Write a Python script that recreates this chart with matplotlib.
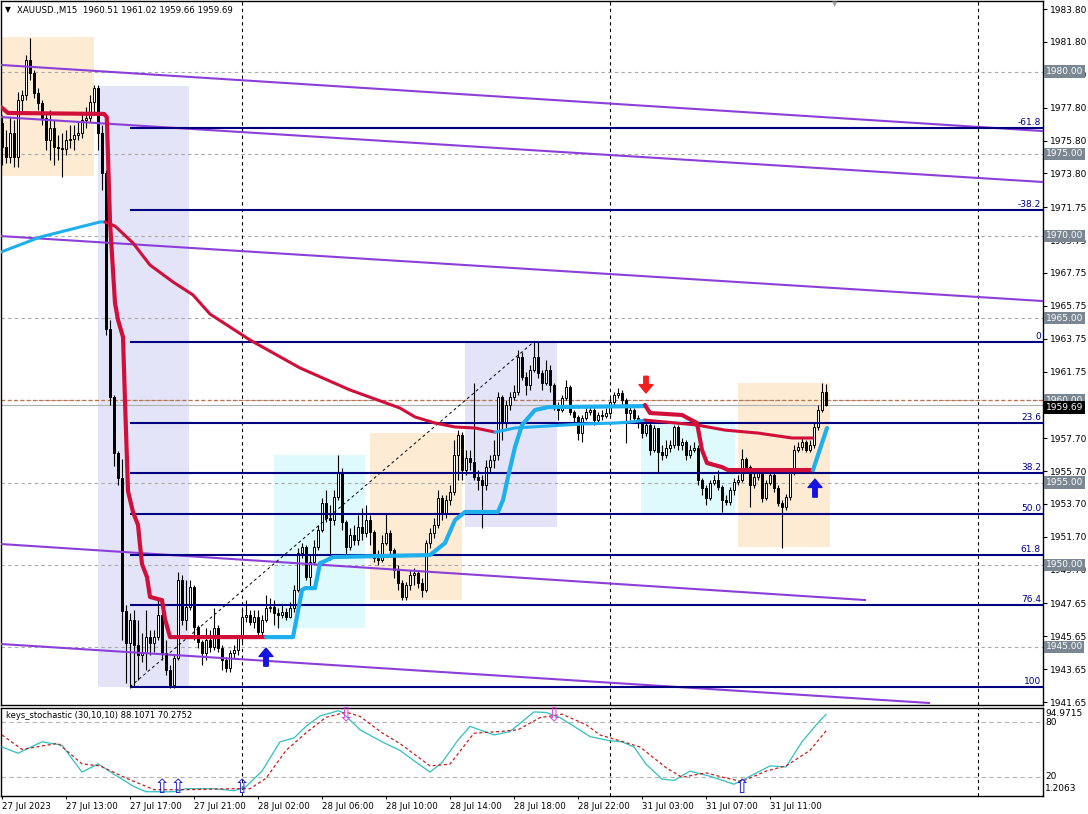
import matplotlib
matplotlib.use("Agg")
import matplotlib.pyplot as plt
import matplotlib.transforms as mtransforms
from matplotlib.patches import Rectangle
import numpy as np

plt.rcParams["font.family"] = ["DejaVu Sans"]

W, H = 1088, 814

# ---- M15 candles (bar 0 = 27 Jul 09:00), open = previous close ----
first_open = 1976.87
closes = [
    1975.41, 1974.80, 1976.26, 1974.80, 1978.27, 1978.57, 1980.70, 1979.91, 1978.69, 1978.08,
    1977.17, 1975.83, 1976.56, 1975.41, 1975.35, 1975.29, 1975.83, 1975.90, 1976.14, 1976.26,
    1977.05, 1977.17, 1978.15, 1979.00, 1976.26, 1973.83, 1964.34, 1960.20, 1956.80, 1955.27,
    1947.18, 1945.24, 1946.64, 1945.12, 1944.51, 1944.63, 1945.60, 1945.24, 1945.60, 1946.94,
    1944.63, 1943.60, 1942.68, 1944.33, 1949.07, 1946.64, 1947.43, 1948.64, 1946.21, 1945.30,
    1944.63, 1945.42, 1944.99, 1946.15, 1944.93, 1944.20, 1943.72, 1944.63, 1944.81, 1945.54,
    1946.82, 1946.94, 1946.52, 1946.82, 1945.91, 1946.64, 1947.37, 1947.43, 1947.06, 1946.94,
    1947.12, 1946.82, 1947.37, 1948.46, 1950.71, 1951.08, 1949.25, 1950.17, 1951.08, 1952.11,
    1953.75, 1952.84, 1952.72, 1954.12, 1955.64, 1952.60, 1951.08, 1951.81, 1951.50, 1952.29,
    1951.93, 1952.72, 1951.99, 1950.41, 1950.29, 1951.32, 1951.93, 1950.90, 1949.68, 1948.89,
    1948.04, 1948.77, 1949.37, 1949.50, 1948.89, 1948.46, 1951.32, 1951.93, 1952.42, 1954.06,
    1953.15, 1953.94, 1954.42, 1956.67, 1957.89, 1955.76, 1956.49, 1956.25, 1955.34, 1955.15,
    1954.85, 1955.94, 1956.37, 1956.67, 1960.20, 1958.62, 1959.72, 1960.20, 1960.51, 1962.63,
    1961.42, 1960.93, 1961.84, 1962.63, 1961.66, 1961.05, 1961.84, 1960.93, 1959.59, 1959.41,
    1960.14, 1960.81, 1959.29, 1958.99, 1958.01, 1958.92, 1959.29, 1959.41, 1958.80, 1959.11,
    1959.05, 1959.23, 1959.90, 1960.32, 1960.45, 1960.02, 1959.23, 1959.41, 1958.92, 1958.62,
    1958.01, 1958.50, 1956.98, 1958.32, 1956.86, 1956.67, 1957.10, 1957.28, 1958.38, 1957.28,
    1957.46, 1956.67, 1956.98, 1957.10, 1955.15, 1954.67, 1954.06, 1954.97, 1955.15, 1954.73,
    1953.94, 1953.81, 1954.54, 1955.03, 1955.15, 1956.43, 1955.94, 1954.85, 1955.34, 1955.64,
    1954.06, 1954.97, 1955.46, 1954.67, 1953.75, 1953.51, 1954.12, 1955.58, 1956.98, 1957.16,
    1957.46, 1956.98, 1957.28, 1958.38, 1959.41, 1960.51, 1959.69,
]
highs = [
    1977.35, 1976.44, 1977.23, 1977.05, 1978.75, 1978.88, 1981.00, 1982.04, 1980.09, 1979.00,
    1978.27, 1977.48, 1977.66, 1977.05, 1976.14, 1976.26, 1976.44, 1976.75, 1976.75, 1976.93,
    1977.54, 1977.84, 1978.57, 1979.18, 1979.18, 1976.75, 1974.01, 1964.89, 1960.32, 1956.92,
    1956.43, 1947.55, 1947.06, 1947.25, 1946.64, 1945.85, 1947.25, 1946.03, 1946.03, 1947.85,
    1947.12, 1945.42, 1943.90, 1944.51, 1949.56, 1949.37, 1949.07, 1949.07, 1948.77, 1946.33,
    1945.42, 1946.15, 1946.03, 1947.37, 1946.33, 1945.12, 1944.39, 1944.81, 1945.12, 1945.72,
    1947.43, 1947.85, 1947.25, 1947.25, 1947.25, 1946.94, 1948.16, 1947.98, 1947.85, 1947.37,
    1947.55, 1947.37, 1947.73, 1948.77, 1951.02, 1951.32, 1951.20, 1950.59, 1951.50, 1952.42,
    1954.06, 1954.54, 1953.63, 1954.54, 1956.67, 1955.88, 1952.72, 1952.23, 1952.42, 1953.02,
    1953.45, 1953.63, 1953.02, 1952.11, 1950.90, 1951.81, 1953.15, 1952.11, 1951.02, 1949.98,
    1949.07, 1948.95, 1949.68, 1949.80, 1949.68, 1949.19, 1951.50, 1952.23, 1952.84, 1954.54,
    1954.24, 1954.24, 1954.85, 1957.59, 1958.19, 1958.07, 1956.98, 1956.98, 1961.05, 1955.76,
    1955.46, 1956.37, 1956.67, 1957.59, 1960.51, 1960.32, 1960.02, 1960.51, 1960.93, 1963.06,
    1962.94, 1961.72, 1962.15, 1963.55, 1963.55, 1961.84, 1962.45, 1962.15, 1961.05, 1959.90,
    1960.32, 1961.24, 1960.93, 1959.41, 1959.11, 1959.11, 1959.53, 1959.72, 1959.53, 1959.29,
    1959.41, 1959.53, 1960.14, 1960.51, 1960.75, 1960.63, 1960.14, 1959.72, 1959.53, 1959.11,
    1958.80, 1958.80, 1958.62, 1958.50, 1958.32, 1957.28, 1957.59, 1957.59, 1958.50, 1958.50,
    1957.71, 1957.59, 1957.28, 1957.46, 1957.28, 1955.27, 1954.85, 1955.15, 1955.46, 1955.76,
    1954.85, 1954.24, 1954.73, 1955.27, 1955.46, 1957.04, 1956.55, 1956.07, 1955.64, 1955.88,
    1955.76, 1955.15, 1955.76, 1955.64, 1954.85, 1953.94, 1954.30, 1955.76, 1957.28, 1957.46,
    1957.71, 1957.59, 1957.59, 1958.68, 1959.72, 1961.05, 1961.02,
]
lows = [
    1974.31, 1974.44, 1974.44, 1974.19, 1974.19, 1977.54, 1978.27, 1979.48, 1978.39, 1977.66,
    1976.75, 1975.23, 1974.62, 1974.31, 1974.62, 1973.58, 1974.92, 1975.35, 1975.23, 1975.83,
    1975.96, 1976.56, 1976.93, 1977.35, 1975.23, 1972.79, 1963.97, 1959.72, 1956.00, 1954.85,
    1945.42, 1942.81, 1942.50, 1942.56, 1942.99, 1944.08, 1943.60, 1944.51, 1944.69, 1945.42,
    1944.20, 1943.29, 1942.50, 1942.50, 1944.20, 1946.33, 1946.03, 1947.25, 1945.42, 1944.93,
    1943.90, 1944.20, 1944.69, 1944.81, 1944.69, 1943.60, 1943.47, 1943.47, 1944.33, 1944.51,
    1945.30, 1946.52, 1946.33, 1946.15, 1945.72, 1945.66, 1946.52, 1947.12, 1946.33, 1946.15,
    1946.76, 1946.64, 1946.76, 1947.12, 1948.34, 1950.41, 1949.07, 1948.64, 1949.98, 1950.90,
    1951.99, 1952.60, 1950.29, 1952.42, 1953.94, 1952.11, 1950.59, 1950.90, 1951.20, 1951.20,
    1951.50, 1951.69, 1951.20, 1950.17, 1949.98, 1950.17, 1951.20, 1950.59, 1949.19, 1948.46,
    1947.85, 1947.85, 1948.46, 1948.77, 1948.58, 1948.04, 1948.34, 1951.02, 1951.62, 1952.23,
    1952.72, 1952.84, 1953.63, 1954.24, 1955.15, 1955.15, 1955.46, 1955.76, 1955.15, 1954.54,
    1952.23, 1954.54, 1955.64, 1955.88, 1956.37, 1957.59, 1958.32, 1959.41, 1960.02, 1960.32,
    1961.24, 1960.32, 1960.63, 1961.72, 1961.36, 1960.63, 1960.93, 1960.51, 1959.41, 1958.80,
    1959.29, 1960.02, 1959.11, 1958.68, 1957.59, 1957.46, 1958.80, 1959.11, 1958.50, 1958.68,
    1958.80, 1958.92, 1959.11, 1959.72, 1960.14, 1959.72, 1957.40, 1958.80, 1958.68, 1958.32,
    1957.71, 1957.83, 1956.67, 1956.86, 1955.58, 1956.37, 1956.49, 1956.86, 1957.10, 1956.98,
    1956.98, 1956.37, 1956.49, 1956.86, 1954.85, 1954.24, 1953.63, 1953.94, 1954.85, 1954.54,
    1953.21, 1953.63, 1953.63, 1954.24, 1954.85, 1955.03, 1955.76, 1953.51, 1954.67, 1955.15,
    1953.81, 1953.94, 1954.85, 1954.42, 1953.57, 1951.02, 1953.33, 1953.94, 1955.46, 1956.86,
    1956.98, 1956.86, 1956.86, 1957.10, 1958.19, 1959.29, 1959.66,
]

time_label_bars = [0, 16, 32, 48, 64, 80, 96, 112, 128, 144, 160, 176, 192]
time_labels = ["27 Jul 2023", "27 Jul 13:00", "27 Jul 17:00", "27 Jul 21:00", "28 Jul 02:00",
               "28 Jul 06:00", "28 Jul 10:00", "28 Jul 14:00", "28 Jul 18:00", "28 Jul 22:00",
               "31 Jul 03:00", "31 Jul 07:00", "31 Jul 11:00"]
day_sep_bars = [60, 152, 244]

price_ticks = [1983.80, 1981.80, 1979.80, 1977.80, 1975.80, 1973.80, 1971.75, 1969.75,
               1967.75, 1965.75, 1963.75, 1961.75, 1957.70, 1955.70, 1953.70,
               1951.70, 1949.70, 1947.65, 1945.65, 1943.65, 1941.65]
round_levels = [1980, 1975, 1970, 1965, 1960, 1955, 1950, 1945]
bid = 1959.69

# fibonacci retracement
fib_low_bar, fib_low = 32, 1942.58
fib_high_bar, fib_high = 133, 1963.57
fib_ratios = [-61.8, -38.2, 0, 23.6, 38.2, 50.0, 61.8, 76.4, 100]
fib_labels = ["-61.8", "-38.2", "0", "23.6", "38.2", "50.0", "61.8", "76.4", "100"]

# purple channel lines (bar, price) -> (bar, price)
channel_lines = [
    ((-0.25, 1980.40), (260.25, 1976.38)),
    ((-0.25, 1977.23), (260.25, 1973.28)),
    ((-0.25, 1969.99), (260.25, 1966.04)),
    ((-0.25, 1951.26), (216.0, 1947.85)),
    ((-0.25, 1945.18), (232.0, 1941.59)),
]

# session boxes: bar start, bar end, low, high, colour
session_boxes = [
    (-0.5, 23.0, 1973.64, 1982.10, "#FDEBD3"),
    (24.0, 46.75, 1942.56, 1979.12, "#E4E4F8"),
    (68.0, 90.75, 1946.15, 1956.67, "#DEFAFC"),
    (92.0, 115.0, 1947.85, 1958.01, "#FDEBD3"),
    (115.75, 138.75, 1952.29, 1963.55, "#E4E4F8"),
    (159.75, 183.25, 1953.15, 1958.80, "#DEFAFC"),
    (184.0, 207.0, 1951.08, 1961.05, "#FDEBD3"),
]

# moving average (segments coloured by trend)
ma_segments = [
    ("#1EB0EE", [(-0.25, 1969.02), (9.5, 1969.93), (24.5, 1970.85), (25.75, 1970.85)]),
    ("#D0103A", [(25.75, 1970.85), (28.25, 1970.60), (32.75, 1969.57), (37, 1968.23),
                 (42.75, 1967.20), (47.75, 1966.41), (52, 1965.25), (62, 1963.67),
                 (74.5, 1961.97), (87, 1960.63), (99.5, 1959.53), (103.25, 1958.99),
                 (108.25, 1958.62), (113.25, 1958.38), (118.25, 1958.32), (123.25, 1958.07)]),
    ("#1EB0EE", [(123.25, 1958.07), (125.75, 1958.19), (128.25, 1958.32), (136.5, 1958.44),
                 (145, 1958.56), (153.25, 1958.62), (157, 1958.68), (160.75, 1958.80)]),
    ("#D0103A", [(160.75, 1958.80), (173.75, 1958.50), (180.75, 1958.19), (189, 1958.01),
                 (197.5, 1957.71), (202.75, 1957.71)]),
]

# trailing stop / supertrend line
st_segments = [
    ("#D0103A", [(-0.25, 1977.84), (1.5, 1977.48), (25.5, 1977.42), (26.2, 1977.23),
                 (27, 1970.85), (28.25, 1965.92), (29, 1964.89), (30.25, 1963.85),
                 (30.75, 1959.96), (31.5, 1954.48), (32.75, 1953.21), (34, 1952.42),
                 (34.5, 1951.20), (35, 1950.04), (36.25, 1949.25), (37, 1948.04),
                 (40, 1947.85), (40.75, 1946.70), (42, 1945.60), (66, 1945.60)]),
    ("#1EB0EE", [(66, 1945.60), (72.75, 1945.60), (75, 1948.46), (75.75, 1948.58),
                 (78.25, 1948.58), (79.5, 1950.10), (80.25, 1950.17), (82.75, 1950.47),
                 (107, 1950.59), (110.75, 1951.32), (113.25, 1952.72), (115.75, 1953.21),
                 (124, 1953.21), (125.25, 1953.94), (126.5, 1955.34), (128.25, 1957.16),
                 (130, 1958.50), (133.25, 1959.41), (136.5, 1959.59), (160.75, 1959.65)]),
    ("#D0103A", [(160.75, 1959.72), (162, 1959.23), (170, 1959.11), (173.75, 1958.62),
                 (175, 1956.98), (176.25, 1956.19), (180, 1955.94), (181.5, 1955.76),
                 (202.75, 1955.76)]),
    ("#1EB0EE", [(202.75, 1955.76), (206.25, 1958.32)]),
]

buy_signals = [(66, 1944.93), (203.25, 1955.21)]     # arrow tip
sell_signals = [(161, 1960.45)]

# keys_stochastic (30,10,10)
stoch_main_bars = [0, 4, 10, 15, 20, 24, 28, 33, 36, 43, 46, 53, 58, 61, 65, 69.5, 73, 76, 79.5, 84,
                   85, 89.5, 95, 99.5, 103, 107, 110, 114, 117, 123, 127, 133, 136, 139.5, 143, 147,
                   152, 155, 158, 161, 165, 168, 172, 177, 183, 187, 192, 196, 200, 204, 206]
stoch_main = [52.9, 46.2, 58.5, 54.8, 25.8, 34.7, 23.5, 10.1, 4.6, 4.6, 7.9, 7.9, 5.7, 10.1, 26.9,
              58.5, 62.6, 75.2, 86.4, 92.0, 90.5, 71.5, 58.5, 49.2, 38.1, 25.8, 36.1, 60.4, 75.2,
              65.9, 69.6, 90.8, 90.2, 84.6, 75.2, 64.1, 59.6, 58.5, 52.9, 34.4, 18.3, 16.8, 26.9,
              21.3, 12.7, 21.3, 32.5, 31.4, 58.5, 79.0, 88.1]
stoch_sig_bars = [0, 5, 14, 20, 24.5, 31, 38, 46, 58, 62, 66, 71, 76, 81, 86, 89.5, 95, 99.5, 107,
                  112, 118, 124.5, 129, 134.5, 140, 146, 149.5, 154.5, 159.5, 166, 170, 176, 181,
                  185, 191, 196, 202, 206]
stoch_sig = [65.9, 50.3, 56.9, 34.7, 32.5, 19.4, 6.8, 6.8, 7.9, 7.9, 19.1, 49.2, 68.2, 84.9, 90.5,
             86.0, 68.2, 56.6, 32.5, 34.4, 67.8, 69.6, 71.5, 84.6, 88.3, 77.1, 65.9, 59.6, 52.9,
             30.6, 20.2, 25.0, 19.4, 15.7, 26.9, 32.5, 49.2, 70.3]
stoch_buy_bars = [40, 44, 60, 185]
stoch_sell_bars = [86, 138]

# ---------------------------------------------------------------
fig = plt.figure(figsize=(W / 100, H / 100), dpi=100)
ax = fig.add_axes([1 / W, 1 - 705 / H, 1042 / W, 704 / H])
ax2 = fig.add_axes([1 / W, 1 - 796 / H, 1042 / W, 88 / H])

XMIN, XMAX = -0.25, 260.25
ax.set_xlim(XMIN, XMAX)
ax.set_ylim(1941.47, 1984.29)
ax2.set_xlim(XMIN, XMAX)
ax2.set_ylim(0.0, 95.0)

for a in (ax, ax2):
    for s in a.spines.values():
        s.set_color("black")
        s.set_linewidth(1.0)

# session boxes
for b0, b1, lo, hi, col in session_boxes:
    ax.add_patch(Rectangle((b0, lo), b1 - b0, hi - lo, facecolor=col, edgecolor="none", zorder=0.5))

# round-number grid and separators
for lv in round_levels:
    ax.axhline(lv, color="#A8A8A8", lw=0.8, ls=(0, (3, 3)), zorder=1)
ax.axhline(1960.0, color="#C0704A", lw=0.9, ls=(0, (3, 2)), zorder=1.2)
ax.axhline(bid, color="#B0B0B0", lw=0.8, zorder=1.2)
for b in day_sep_bars:
    ax.axvline(b, color="black", lw=0.8, ls=(0, (3, 3)), zorder=1)
    ax2.axvline(b, color="black", lw=0.8, ls=(0, (3, 3)), zorder=1)

# candles
c = np.array(closes)
o = np.array([first_open] + closes[:-1])
hi_ = np.array(highs)
lo_ = np.array(lows)
bars = np.arange(len(c))
up = c >= o
body = np.where(np.abs(c - o) < 0.03, 0.03, c - o)
ax.vlines(bars, lo_, hi_, color="black", lw=0.8, zorder=3)
ax.bar(bars[up], body[up], bottom=o[up], width=0.6, color="white", edgecolor="black",
       linewidth=0.7, zorder=3.1)
ax.bar(bars[~up], body[~up], bottom=o[~up], width=0.6, color="black", edgecolor="black",
       linewidth=0.7, zorder=3.1)

# channel lines
for (x0, y0), (x1, y1) in channel_lines:
    ax.plot([x0, x1], [y0, y1], color="#8C3FD8", lw=1.5, zorder=3.5, solid_capstyle="butt")

# fibonacci
ytrans = mtransforms.blended_transform_factory(ax.transAxes, ax.transData)
rng = fib_high - fib_low
for r, lab in zip(fib_ratios, fib_labels):
    lv = fib_high - r / 100.0 * rng
    ax.plot([fib_low_bar, XMAX], [lv, lv], color="#000080", lw=1.5, zorder=3.6, solid_capstyle="butt")
    ax.text(0.998, lv + 0.06, lab, transform=ytrans, ha="right", va="bottom", fontsize=6.5,
            color="#000080", zorder=6)
ax.plot([fib_low_bar, fib_high_bar], [fib_low, fib_high], color="black", lw=0.7,
        ls=(0, (3, 3)), zorder=3.6)

# moving average and trailing line
for col, pts in ma_segments:
    xs, ys = zip(*pts)
    ax.plot(xs, ys, color=col, lw=2.2, zorder=4, solid_capstyle="round")
for col, pts in st_segments:
    xs, ys = zip(*pts)
    ax.plot(xs, ys, color=col, lw=3.0, zorder=4.5, solid_capstyle="round", solid_joinstyle="round")

# signal arrows
for b, p in buy_signals:
    ax.annotate("", xy=(b, p), xytext=(0, -13), textcoords="offset points",
                arrowprops=dict(facecolor="#1414E0", edgecolor="#1414E0", width=3.2,
                                headwidth=10, headlength=6, shrink=0), zorder=6)
for b, p in sell_signals:
    ax.annotate("", xy=(b, p), xytext=(0, 12), textcoords="offset points",
                arrowprops=dict(facecolor="#F02020", edgecolor="#F02020", width=3.2,
                                headwidth=10, headlength=6, shrink=0), zorder=6)

# right price axis
ax.yaxis.tick_right()
ax.set_yticks(price_ticks)
ax.set_yticklabels([f"{t:.2f}" for t in price_ticks], fontsize=6.5)
ax.tick_params(axis="y", direction="out", length=3, width=0.8, pad=2, colors="black")
ax.set_xticks([])
for lv in round_levels:
    ax.text(1.0025, lv, f"{lv:.2f}", transform=ytrans, ha="left", va="center", fontsize=6.5,
            color="white", clip_on=False, zorder=10,
            bbox=dict(boxstyle="square,pad=0.18", fc="#7A8792", ec="none"))
ax.text(1.0025, bid - 0.12, f"{bid:.2f}", transform=ytrans, ha="left", va="center", fontsize=6.5,
        color="white", clip_on=False, zorder=11,
        bbox=dict(boxstyle="square,pad=0.18", fc="black", ec="none"))

# titles
fig.text(5 / W, 1 - 10 / H, "▼", fontsize=5.5, ha="left", va="center", color="black")
fig.text(17 / W, 1 - 10 / H, "XAUUSD.,M15  1960.51 1961.02 1959.66 1959.69", fontsize=6.2,
         ha="left", va="center", color="black")
fig.text(835 / W, 1 - 4 / H, "▼", fontsize=5, ha="center", va="center", color="#A0A0A0")

# stochastic panel
ax2.axhline(80, color="#B4B4B4", lw=0.8, ls=(0, (4, 3)), zorder=1)
ax2.axhline(20, color="#B4B4B4", lw=0.8, ls=(0, (4, 3)), zorder=1)
ax2.plot(stoch_main_bars, stoch_main, color="#30C0C0", lw=0.9, zorder=3)
ax2.plot(stoch_sig_bars, stoch_sig, color="#C81E1E", lw=0.9, ls=(0, (2.5, 2)), zorder=3)
for b in stoch_buy_bars:
    ax2.text(b, -1.5, "⇧", ha="center", va="bottom", fontsize=14, color="#2020D0", zorder=5)
for b in stoch_sell_bars:
    ax2.text(b, 97.0, "⇩", ha="center", va="top", fontsize=14, color="#E040E0", zorder=5)
ax2.text(5 / 1042, 0.92, "keys_stochastic (30,10,10) 88.1071 70.2752", transform=ax2.transAxes,
         fontsize=6.0, ha="left", va="center", color="black")
ax2.set_yticks([])
ax2.text(1.002, 0.943, "94.9715", transform=ax2.transAxes, fontsize=6.5, ha="left", va="center", clip_on=False)
ax2.text(1.002, 0.835, "80", transform=ax2.transAxes, fontsize=6.5, ha="left", va="center", clip_on=False)
ax2.text(1.002, 0.216, "20", transform=ax2.transAxes, fontsize=6.5, ha="left", va="center", clip_on=False)
ax2.text(1.002, 0.08, "1.2063", transform=ax2.transAxes, fontsize=6.5, ha="left", va="center", clip_on=False)

ax2.set_xticks(time_label_bars)
ax2.set_xticklabels(time_labels, fontsize=6.2, ha="left")
ax2.tick_params(axis="x", direction="out", length=2.5, width=0.8, pad=1.5)

fig.savefig("out.png", dpi=100, facecolor="white")
